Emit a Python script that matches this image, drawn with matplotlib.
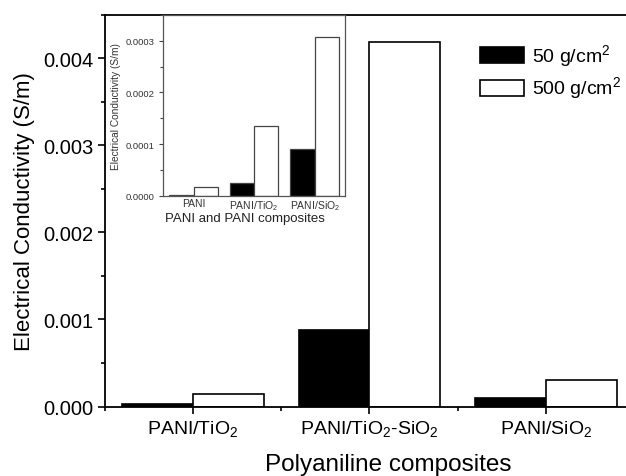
import matplotlib.pyplot as plt
from matplotlib.ticker import FormatStrFormatter, MultipleLocator
import numpy as np

plt.rcParams["font.family"] = ["Liberation Sans", "DejaVu Sans"]

# Main panel: conductivity of the composites at two pressures
composites = ["PANI/TiO$_\\mathregular{2}$", "PANI/TiO$_\\mathregular{2}$-SiO$_\\mathregular{2}$",
              "PANI/SiO$_\\mathregular{2}$"]
cond_50 = [0.00003, 0.00088, 0.000096]
cond_500 = [0.000142, 0.004184, 0.000308]

# Inset: pure PANI and the binary composites
inset_labels = ["PANI", "PANI/TiO$_\\mathregular{2}$", "PANI/SiO$_\\mathregular{2}$"]
inset_50 = [0.000002, 0.000024, 0.0000906]
inset_500 = [0.0000175, 0.000135, 0.000307]

series_labels = ["50 g/cm$^\\mathregular{2}$", "500 g/cm$^\\mathregular{2}$"]

fig = plt.figure(figsize=(6.26, 4.77), dpi=100)
ax = fig.add_axes([0.1673, 0.1457, 0.8458, 0.8208])

x = np.arange(1, len(composites) + 1)
w = 0.4
ax.bar(x - w / 2, cond_50, w, color="black", edgecolor="black", linewidth=1.2,
       label=series_labels[0])
ax.bar(x + w / 2, cond_500, w, color="white", edgecolor="black", linewidth=1.2,
       label=series_labels[1])

ax.set_xlim(0.5, 3.5)
ax.set_ylim(0, 0.0045)
ax.set_xticks(x)
ax.set_xticklabels(composites, fontsize=14)
ax.xaxis.set_minor_locator(MultipleLocator(1, offset=0.5))
ax.yaxis.set_major_locator(MultipleLocator(0.001))
ax.yaxis.set_minor_locator(MultipleLocator(0.0005))
ax.yaxis.set_major_formatter(FormatStrFormatter("%.3f"))
ax.tick_params(axis="y", labelsize=14.5, pad=3)
ax.tick_params(axis="x", pad=4)
ax.tick_params(which="both", direction="out", width=1.2)
ax.tick_params(which="major", length=5)
ax.tick_params(which="minor", length=3)
ax.spines["right"].set_visible(False)
for side in ("left", "top", "bottom"):
    ax.spines[side].set_linewidth(1.3)
ax.set_ylabel("Electrical Conductivity (S/m)", fontsize=16, labelpad=6)
ax.set_xlabel("Polyaniline composites", fontsize=17.5, va="baseline")
ax.xaxis.set_label_coords(0.535, -0.163)

ax.legend(loc="upper left", bbox_to_anchor=(0.675, 0.975), frameon=False, fontsize=14,
          handlelength=2.3, handleheight=0.9, handletextpad=0.4, labelspacing=0.3)

# Inset with the low-conductivity samples
ins = fig.add_axes([0.261, 0.5876, 0.290, 0.3789])
xi = np.arange(1, len(inset_labels) + 1)
edge = "#444444"
ins.bar(xi - w / 2, inset_50, w, color="black", edgecolor=edge, linewidth=0.9)
ins.bar(xi + w / 2, inset_500, w, color="white", edgecolor=edge, linewidth=0.9)
ins.set_xlim(0.5, 3.5)
ins.set_ylim(0, 0.00035)
ins.set_xticks(xi)
ins.set_xticklabels(inset_labels, fontsize=7.5, color="#333333")
ins.yaxis.set_major_locator(MultipleLocator(0.0001))
ins.yaxis.set_minor_locator(MultipleLocator(0.00005))
ins.yaxis.set_major_formatter(FormatStrFormatter("%.4f"))
ins.tick_params(axis="y", labelsize=6.8, labelcolor="#333333")
ins.tick_params(which="both", direction="out", color=edge, width=0.8)
ins.tick_params(which="major", length=3)
ins.tick_params(which="minor", length=2)
ins.tick_params(axis="x", length=0, pad=2)
for side in ins.spines.values():
    side.set_color("#555555")
    side.set_linewidth(0.9)
ins.set_ylabel("Electrical Conductivity (S/m)", fontsize=7.3, color="#333333", labelpad=3)
ins.set_xlabel("PANI and PANI composites", fontsize=9.5, color="#222222", labelpad=1)
ins.xaxis.set_label_coords(0.45, -0.09)

fig.savefig("out.png", dpi=100)
